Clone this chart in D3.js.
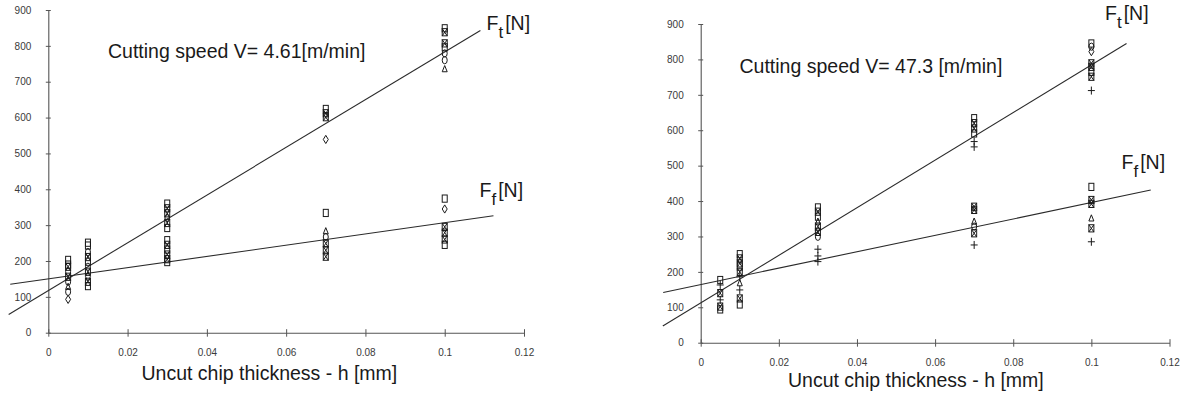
<!DOCTYPE html>
<html>
<head>
<meta charset="utf-8">
<script src="https://cdn.jsdelivr.net/npm/d3@7"></script>
<style>
  html, body { margin: 0; padding: 0; background: #fff; }
  svg { display: block; font-family: "Liberation Sans", Arial, Helvetica, sans-serif; }
</style>
</head>
<body>
<svg id="chart" width="1187" height="398"></svg>
<script>
// Axis ticks shared by both panels
const xTicks = [0, 0.02, 0.04, 0.06, 0.08, 0.1, 0.12];
const yTicks = [0, 100, 200, 300, 400, 500, 600, 700, 800, 900];

// Measured forces: [uncut chip thickness h (mm), force (N), marker]
// V = 4.61 m/min
const slowFt = [
  [0.005, 184, "xsquare"], [0.005, 156, "xsquare"], [0.005, 128, "triangle"], [0.005, 114, "circle"], [0.005, 93, "diamond"],
  [0.01, 251, "square"], [0.01, 243, "square"], [0.01, 225, "circle"], [0.01, 198, "square"], [0.01, 184, "circle"], [0.01, 156, "diamond"],
  [0.03, 360, "square"], [0.03, 347, "xsquare"], [0.03, 333, "xsquare"], [0.03, 320, "diamond"], [0.03, 306, "xsquare"], [0.03, 292, "square"],
  [0.07, 624, "square"], [0.07, 612, "xsquare"], [0.07, 601, "xsquare"], [0.07, 539, "diamond"],
  [0.1, 849, "square"], [0.1, 838, "xsquare"], [0.1, 807, "xsquare"], [0.1, 796, "square"], [0.1, 779, "circle"], [0.1, 760, "circle"], [0.1, 735, "triangle"]
];
const slowFf = [
  [0.005, 203, "square"], [0.005, 190, "square"], [0.005, 170, "circle"], [0.005, 142, "circle"],
  [0.01, 211, "xsquare"], [0.01, 170, "xsquare"], [0.01, 142, "xsquare"], [0.01, 130, "square"],
  [0.03, 258, "square"], [0.03, 245, "xsquare"], [0.03, 232, "square"], [0.03, 218, "xsquare"], [0.03, 205, "xsquare"], [0.03, 197, "square"],
  [0.07, 334, "square"], [0.07, 283, "triangle"], [0.07, 267, "circle"], [0.07, 249, "xsquare"], [0.07, 230, "xsquare"], [0.07, 212, "xsquare"],
  [0.1, 374, "square"], [0.1, 345, "diamond"], [0.1, 295, "xsquare"], [0.1, 279, "xsquare"], [0.1, 260, "xsquare"], [0.1, 245, "square"]
];
// V = 47.3 m/min
const fastFt = [
  [0.005, 140, "xsquare"], [0.005, 121, "plus"], [0.005, 102, "xsquare"], [0.005, 94, "square"],
  [0.01, 250, "square"], [0.01, 224, "xsquare"], [0.01, 200, "xsquare"], [0.01, 168, "triangle"], [0.01, 125, "xsquare"],
  [0.03, 382, "square"], [0.03, 370, "xsquare"], [0.03, 356, "square"], [0.03, 342, "triangle"], [0.03, 328, "xsquare"], [0.03, 313, "xsquare"], [0.03, 299, "circle"], [0.03, 264, "plus"],
  [0.07, 634, "square"], [0.07, 620, "xsquare"], [0.07, 605, "xsquare"], [0.07, 591, "square"], [0.07, 568, "plus"], [0.07, 553, "plus"],
  [0.1, 845, "square"], [0.1, 836, "circle"], [0.1, 822, "diamond"], [0.1, 789, "xsquare"], [0.1, 779, "xsquare"], [0.1, 765, "square"], [0.1, 751, "xsquare"], [0.1, 712, "plus"]
];
const fastFf = [
  [0.005, 177, "square"], [0.005, 163, "plus"],
  [0.01, 238, "xsquare"], [0.01, 215, "square"], [0.01, 186, "plus"], [0.01, 149, "plus"], [0.01, 108, "square"],
  [0.03, 245, "plus"], [0.03, 229, "plus"],
  [0.07, 384, "xsquare"], [0.07, 375, "xsquare"], [0.07, 342, "triangle"], [0.07, 328, "circle"], [0.07, 309, "xsquare"], [0.07, 276, "plus"],
  [0.1, 440, "square"], [0.1, 403, "xsquare"], [0.1, 392, "xsquare"], [0.1, 351, "triangle"], [0.1, 323, "xsquare"], [0.1, 285, "plus"]
];

// Linear fits, given by their end points [h, F]
const slowFtFit = [[-0.0100, 51], [0.109, 843]];
const slowFfFit = [[-0.0096, 135], [0.1123, 326]];
const fastFtFit = [[-0.0097, 47], [0.109, 845]];
const fastFfFit = [[-0.0096, 142], [0.1152, 431]];

const panels = [
  { title: "Cutting speed V= 4.61[m/min]", ft: slowFt, ff: slowFf, ftFit: slowFtFit, ffFit: slowFfFit,
    x0: 48.3, x1: 524, y0: 332.7, y1: 10,
    titlePos: [108, 58], xLabelPos: [141.5, 380],
    ftLabel: [486.5, 30], ffLabel: [479.5, 196.5] },
  { title: "Cutting speed V= 47.3 [m/min]", ft: fastFt, ff: fastFf, ftFit: fastFtFit, ffFit: fastFfFit,
    x0: 700.7, x1: 1169.5, y0: 342.7, y1: 24,
    titlePos: [739.5, 72.5], xLabelPos: [788, 386.5],
    ftLabel: [1105, 20], ffLabel: [1121.5, 168.5] }
];

const svg = d3.select("#chart");
svg.append("rect").attr("width", 1187).attr("height", 398).attr("fill", "#fff");

const rw = 2.5, rh = 3.6;   // marker half width / half height
function drawMarker(g, kind, cx, cy) {
  const s = { fill: "none", stroke: "#1a1a1a", "stroke-width": 1 };
  const apply = sel => { Object.entries(s).forEach(([k, v]) => sel.attr(k, v)); return sel; };
  if (kind === "square" || kind === "xsquare") {
    apply(g.append("rect").attr("x", cx - rw).attr("y", cy - rh).attr("width", 2 * rw).attr("height", 2 * rh));
    if (kind === "xsquare") {
      apply(g.append("path").attr("d", `M${cx - rw},${cy - rh}L${cx + rw},${cy + rh}M${cx + rw},${cy - rh}L${cx - rw},${cy + rh}`));
    }
  } else if (kind === "diamond") {
    apply(g.append("path").attr("d", `M${cx},${cy - rh - 0.5}L${cx + rw},${cy}L${cx},${cy + rh + 0.5}L${cx - rw},${cy}Z`));
  } else if (kind === "triangle") {
    apply(g.append("path").attr("d", `M${cx},${cy - rh}L${cx + rw},${cy + rh - 1}L${cx - rw},${cy + rh - 1}Z`));
  } else if (kind === "circle") {
    apply(g.append("ellipse").attr("cx", cx).attr("cy", cy).attr("rx", rw).attr("ry", rh));
  } else if (kind === "plus") {
    apply(g.append("path").attr("d", `M${cx - 3.5},${cy}L${cx + 3.5},${cy}M${cx},${cy - 4}L${cx},${cy + 4}`));
  }
}

panels.forEach(p => {
  const x = d3.scaleLinear().domain([0, 0.12]).range([p.x0, p.x1]);
  const y = d3.scaleLinear().domain([0, 900]).range([p.y0, p.y1]);
  const g = svg.append("g");

  // y axis
  const ya = g.append("g").attr("transform", `translate(${p.x0},0)`)
    .call(d3.axisLeft(y).tickValues(yTicks).tickFormat(d3.format("d")).tickSizeOuter(0).tickPadding(11));
  ya.select(".domain").attr("stroke", "#555").attr("stroke-width", 1.1);
  ya.selectAll(".tick line").attr("x1", -2.5).attr("x2", 2.5).attr("stroke", "#555");
  ya.selectAll(".tick text").attr("font-size", 10).attr("fill", "#3a3a3a")
    .attr("font-family", "Liberation Sans, Arial, sans-serif");

  // x axis
  const xa = g.append("g").attr("transform", `translate(0,${p.y0})`)
    .call(d3.axisBottom(x).tickValues(xTicks).tickFormat(d => String(+d.toFixed(2))).tickSizeOuter(0).tickPadding(10));
  xa.select(".domain").attr("stroke", "#555").attr("stroke-width", 1.1);
  xa.selectAll(".tick line").attr("y1", -3.5).attr("y2", 4).attr("stroke", "#555");
  xa.selectAll(".tick text").attr("font-size", 10).attr("fill", "#3a3a3a")
    .attr("font-family", "Liberation Sans, Arial, sans-serif");

  // fitted lines
  const line = d3.line().x(d => x(d[0])).y(d => y(d[1]));
  [p.ftFit, p.ffFit].forEach(fit => {
    g.append("path").attr("d", line(fit)).attr("fill", "none").attr("stroke", "#2a2a2a").attr("stroke-width", 1.1);
  });

  // measured points
  const mg = g.append("g");
  p.ft.concat(p.ff).forEach(d => drawMarker(mg, d[2], x(d[0]), y(d[1])));

  // texts
  g.append("text").attr("x", p.titlePos[0]).attr("y", p.titlePos[1])
    .attr("font-size", 19.5).attr("fill", "#1a1a1a").text(p.title);
  g.append("text").attr("x", p.xLabelPos[0]).attr("y", p.xLabelPos[1])
    .attr("font-size", 19.5).attr("fill", "#1a1a1a").text("Uncut chip thickness - h [mm]");

  [[p.ftLabel, "t"], [p.ffLabel, "f"]].forEach(([pos, sub]) => {
    const t = g.append("text").attr("x", pos[0]).attr("y", pos[1]).attr("font-size", 19.5).attr("fill", "#1a1a1a");
    t.append("tspan").text("F");
    t.append("tspan").attr("dy", 8).attr("font-size", 17).text(sub);
    t.append("tspan").attr("dy", -8).attr("dx", 2).text("[N]");
  });
});
</script>
</body>
</html>
